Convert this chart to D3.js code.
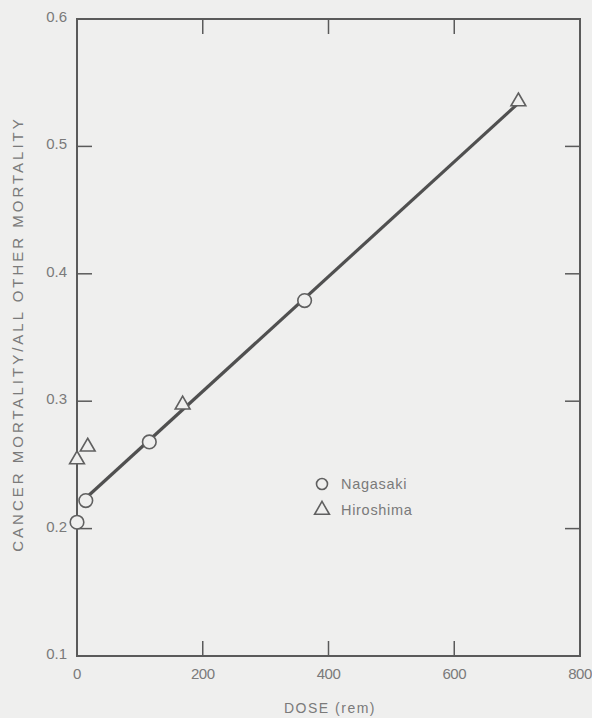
<!DOCTYPE html>
<html lang="en">
<head>
  <meta charset="UTF-8">
  <title>Cancer mortality vs dose</title>
  <script src="https://d3js.org/d3.v7.min.js"></script>
  <style>
    body { margin: 0; background: #efefee; }
    text { font-family: "Liberation Sans", Arial, sans-serif; fill: #7a7a7a; }
    .tick text { font-size: 15px; }
    .frame { fill: none; stroke: #5a5a5a; stroke-width: 2; }
  </style>
</head>
<body>
  <svg width="592" height="718"></svg>
  <script>
    // data
    const nagasakiDose = [0, 14, 115, 362];
    const nagasakiRatio = [0.205, 0.222, 0.268, 0.379];
    const hiroshimaDose = [0, 17, 168, 702];
    const hiroshimaRatio = [0.255, 0.265, 0.298, 0.536];
    const fitDose = [12, 700];
    const fitRatio = [0.223, 0.533];
    const xTicks = [0, 200, 400, 600, 800];
    const yTicks = [0.1, 0.2, 0.3, 0.4, 0.5, 0.6];

    const svg = d3.select('svg');
    const m = { left: 77, top: 19, right: 580, bottom: 656 };

    const x = d3.scaleLinear().domain([0, 800]).range([m.left, m.right]);
    const y = d3.scaleLinear().domain([0.1, 0.6]).range([m.bottom, m.top]);
    const tl = 15;

    // frame
    svg.append('rect').attr('class', 'frame')
      .attr('x', m.left).attr('y', m.top)
      .attr('width', m.right - m.left).attr('height', m.bottom - m.top);

    // inner ticks on all four sides
    const inner = svg.append('g').attr('stroke', '#5a5a5a').attr('stroke-width', 1.5);
    xTicks.slice(1, -1).forEach(t => {
      inner.append('line').attr('x1', x(t)).attr('x2', x(t)).attr('y1', m.bottom).attr('y2', m.bottom - tl);
      inner.append('line').attr('x1', x(t)).attr('x2', x(t)).attr('y1', m.top).attr('y2', m.top + tl);
    });
    yTicks.slice(1, -1).forEach(t => {
      inner.append('line').attr('y1', y(t)).attr('y2', y(t)).attr('x1', m.left).attr('x2', m.left + tl);
      inner.append('line').attr('y1', y(t)).attr('y2', y(t)).attr('x1', m.right).attr('x2', m.right - tl);
    });

    // tick labels
    svg.append('g').attr('class', 'tick')
      .selectAll('text').data(xTicks).join('text')
      .attr('x', d => x(d)).attr('y', m.bottom + 23)
      .attr('text-anchor', 'middle')
      .attr('letter-spacing', -0.5)
      .text(d => d);

    svg.append('g').attr('class', 'tick')
      .selectAll('text').data(yTicks).join('text')
      .attr('x', m.left - 10).attr('y', d => y(d) + 3)
      .attr('text-anchor', 'end')
      .text(d => d3.format('.1f')(d));

    // axis titles
    svg.append('text')
      .attr('x', 330).attr('y', 713)
      .attr('text-anchor', 'middle')
      .attr('font-size', 14)
      .attr('letter-spacing', 1.5)
      .text('DOSE (rem)');

    svg.append('text')
      .attr('transform', `translate(23,334) rotate(-90)`)
      .attr('text-anchor', 'middle')
      .attr('font-size', 15)
      .attr('letter-spacing', 3)
      .text('CANCER MORTALITY/ALL OTHER MORTALITY');

    // fitted line
    svg.append('line')
      .attr('x1', x(fitDose[0])).attr('y1', y(fitRatio[0]))
      .attr('x2', x(fitDose[1])).attr('y2', y(fitRatio[1]))
      .attr('stroke', '#505050').attr('stroke-width', 3.2);

    const tri = d3.symbol().type(d3.symbolTriangle).size(95);

    // Nagasaki
    svg.append('g').selectAll('circle')
      .data(d3.zip(nagasakiDose, nagasakiRatio)).join('circle')
      .attr('cx', d => x(d[0])).attr('cy', d => y(d[1])).attr('r', 6.8)
      .attr('fill', '#efefee').attr('stroke', '#606060').attr('stroke-width', 1.6);

    // Hiroshima
    svg.append('g').selectAll('path')
      .data(d3.zip(hiroshimaDose, hiroshimaRatio)).join('path')
      .attr('d', tri)
      .attr('transform', d => `translate(${x(d[0])},${y(d[1]) + 1})`)
      .attr('fill', '#efefee').attr('stroke', '#606060').attr('stroke-width', 1.6);

    // legend
    const lg = svg.append('g').attr('transform', 'translate(322,484)');
    lg.append('circle').attr('r', 5.5)
      .attr('fill', 'none').attr('stroke', '#606060').attr('stroke-width', 1.6);
    lg.append('text').attr('x', 19).attr('y', 5).attr('font-size', 14.5).attr('letter-spacing', 0.7).text('Nagasaki');
    lg.append('path').attr('d', tri).attr('transform', 'translate(0,26)')
      .attr('fill', 'none').attr('stroke', '#606060').attr('stroke-width', 1.6);
    lg.append('text').attr('x', 19).attr('y', 31).attr('font-size', 14.5).attr('letter-spacing', 0.7).text('Hiroshima');
  </script>
</body>
</html>
